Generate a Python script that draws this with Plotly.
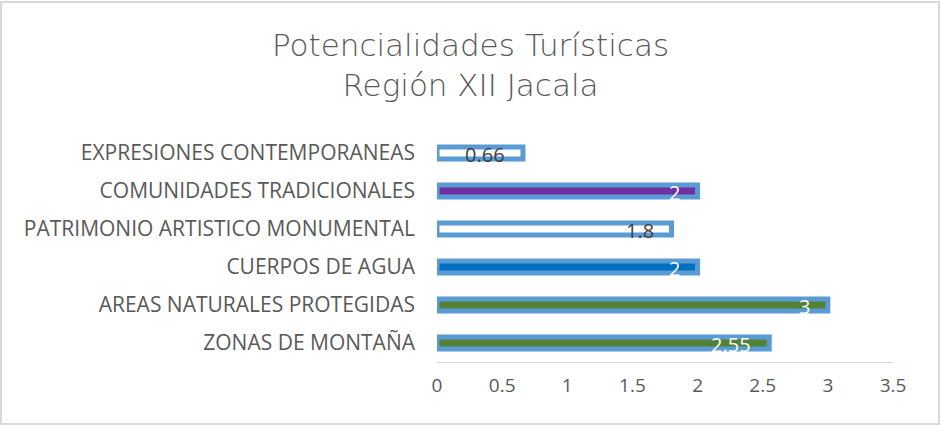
import plotly.graph_objects as go

categories = ["ZONAS DE MONTAÑA", "AREAS NATURALES PROTEGIDAS", "CUERPOS DE AGUA",
              "PATRIMONIO ARTISTICO MONUMENTAL", "COMUNIDADES TRADICIONALES",
              "EXPRESIONES CONTEMPORANEAS"]
values = [2.55, 3, 2, 1.8, 2, 0.66]
fill_colors = ["#548235", "#548235", "#0070C0", "#FFFFFF", "#7030A0", "#FFFFFF"]
label_colors = ["#FFFFFF", "#FFFFFF", "#FFFFFF", "#404040", "#FFFFFF", "#404040"]
x_ticks = [0, 0.5, 1, 1.5, 2, 2.5, 3, 3.5]

W, H = 941, 426
L, R, T, B = 437, 48, 134, 64
pw, ph = W - L - R, H - T - B

fig = go.Figure()
fig.add_trace(go.Bar(
    y=categories, x=values, orientation="h", width=0.32,
    marker=dict(color=fill_colors, line=dict(color="#5B9BD5", width=5)),
    hoverinfo="x+y",
))

for c, v, col in zip(categories, values, label_colors):
    fig.add_annotation(x=v, y=c, xref="x", yref="y", text=str(v), showarrow=False,
                       xanchor="right", xshift=-16, yshift=-1,
                       font=dict(family="Open Sans", size=20, color=col))

# outer chart border
fig.add_shape(type="rect", xref="paper", yref="paper",
              x0=(1 - L) / pw, x1=(W - 2 - L) / pw,
              y0=-(H - 2 - (H - B)) / ph, y1=1 + (T - 2) / ph,
              line=dict(color="#D9D9D9", width=2), fillcolor="rgba(0,0,0,0)", layer="below")

fig.update_layout(
    width=W, height=H,
    margin=dict(l=L, r=R, t=T, b=B),
    paper_bgcolor="white", plot_bgcolor="white",
    showlegend=False,
    title=dict(text="Potencialidades Turísticas<br>Región XII Jacala",
               x=0.5, xanchor="center", xref="container",
               y=1 - 56 / H, yanchor="middle", yref="container",
               font=dict(family="DejaVu Sans", size=31, color="#595959", weight=200)),
    xaxis=dict(range=[0, 3.5], tickvals=x_ticks, ticktext=[str(t) for t in x_ticks],
               showgrid=False, zeroline=False, showline=True, linecolor="#D9D9D9",
               linewidth=1, ticks="", ticklabelstandoff=6, automargin=False,
               tickfont=dict(family="Open Sans", size=19, color="#595959")),
    yaxis=dict(categoryorder="array", categoryarray=categories, showgrid=False,
               zeroline=False, showline=False, ticks="", ticklabelstandoff=21,
               automargin=False,
               tickfont=dict(family="Open Sans", size=21, color="#595959")),
)
fig.write_html("out.html", config={"displayModeBar": False},
               post_script="document.body.style.margin='0';")
